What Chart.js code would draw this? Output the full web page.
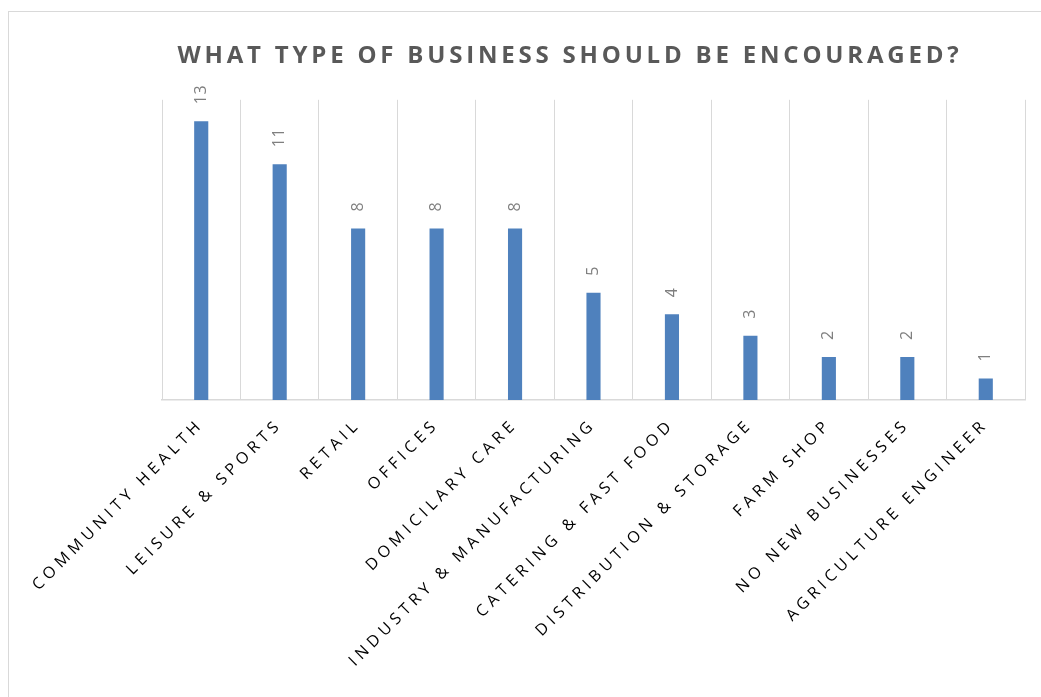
<!DOCTYPE html>
<html>
<head>
<meta charset="utf-8">
<script src="https://cdn.jsdelivr.net/npm/chart.js@4/dist/chart.umd.min.js"></script>
<style>
  body { margin: 0; background: #fff; }
  #wrap { position: relative; width: 1041px; height: 697px; }
  #frame { position: absolute; left: 8px; top: 11px; right: -5px; bottom: -5px;
           border-left: 1px solid #d9d9d9; border-top: 1px solid #d9d9d9; }
  #chart_1 { position: absolute; left: 0; top: 0; }
</style>
</head>
<body>
<div id="wrap">
  <div id="frame"></div>
  <canvas id="chart_1" width="1041" height="697"></canvas>
</div>
<script>
// categories and counts
var businesses = [
  "COMMUNITY HEALTH", "LEISURE & SPORTS", "RETAIL", "OFFICES",
  "DOMICILARY CARE", "INDUSTRY & MANUFACTURING", "CATERING & FAST FOOD",
  "DISTRIBUTION & STORAGE", "FARM SHOP", "NO NEW BUSINESSES",
  "AGRICULTURE ENGINEER"
];
var votes = [13, 11, 8, 8, 8, 5, 4, 3, 2, 2, 1];
var yMax = 14;

const ctxval1 = document.getElementById("chart_1");

var myChart1 = new Chart(ctxval1, {
  type: "bar",
  data: {
    labels: businesses,
    datasets: [
      {
        label: "Votes",
        data: votes,
        backgroundColor: "#4f81bd",
        borderWidth: 0,
        barPercentage: 0.9,
        categoryPercentage: 0.2,
      },
    ],
  },
  options: {
    responsive: false,
    animation: false,
    layout: {
      padding: { left: 115, right: 16, top: 0, bottom: 0 },
    },
    plugins: {
      legend: { display: false },
      tooltip: { enabled: false },
      //TITLE
      title: {
        display: true,
        text: "WHAT TYPE OF BUSINESS SHOULD BE ENCOURAGED?",
        color: "#595959",
        font: { family: "Open Sans", size: 24, weight: "bold" },
        padding: { top: 42, bottom: 29 },
      },
    },
    scales: {
      x: {
        grid: {
          color: "#d9d9d9",
          lineWidth: 1,
          drawTicks: false,
          offset: true,
        },
        border: { color: "#d9d9d9", width: 1.5 },
        ticks: {
          autoSkip: false,
          minRotation: 45,
          maxRotation: 45,
          padding: 15,
          color: "#000",
          font: { family: "Open Sans", size: 16 },
        },
        afterFit: function (scale) {
          scale.height = 297;
        },
      },
      y: {
        min: 0,
        max: yMax,
        grid: { display: false },
        border: { display: false },
        ticks: { display: false },
        afterFit: function (scale) {
          scale.width = 47;
        },
      },
    },
  },
  plugins: [
    //letter spacing like the office chart (axis labels)
    {
      id: "spacing",
      beforeUpdate: (chart) => { chart.ctx.letterSpacing = "4.6px"; },
      beforeDraw: (chart) => { chart.ctx.letterSpacing = "4.6px"; },
    },
    //value labels on top of the bars, turned upright
    {
      id: "valueLabels",
      afterDatasetsDraw: (chart) => {
        const ctx = chart.ctx;
        const meta = chart.getDatasetMeta(0);
        ctx.save();
        ctx.letterSpacing = "0.5px";
        ctx.fillStyle = "#7f7f7f";
        ctx.font = "16px 'Open Sans'";
        ctx.textAlign = "left";
        ctx.textBaseline = "middle";
        meta.data.forEach((bar, i) => {
          ctx.save();
          ctx.translate(bar.x, bar.y - 17);
          ctx.rotate(-Math.PI / 2);
          ctx.fillText(String(votes[i]), 0, 0);
          ctx.restore();
        });
        ctx.restore();
      },
    },
  ],
});

// title gets its own spacing
var tb = myChart1.titleBlock;
var tbDraw = tb.draw.bind(tb);
tb.draw = function () {
  var c = myChart1.ctx;
  c.save();
  c.letterSpacing = "3.8px";
  tbDraw();
  c.restore();
};
myChart1.draw();
</script>
</body>
</html>
